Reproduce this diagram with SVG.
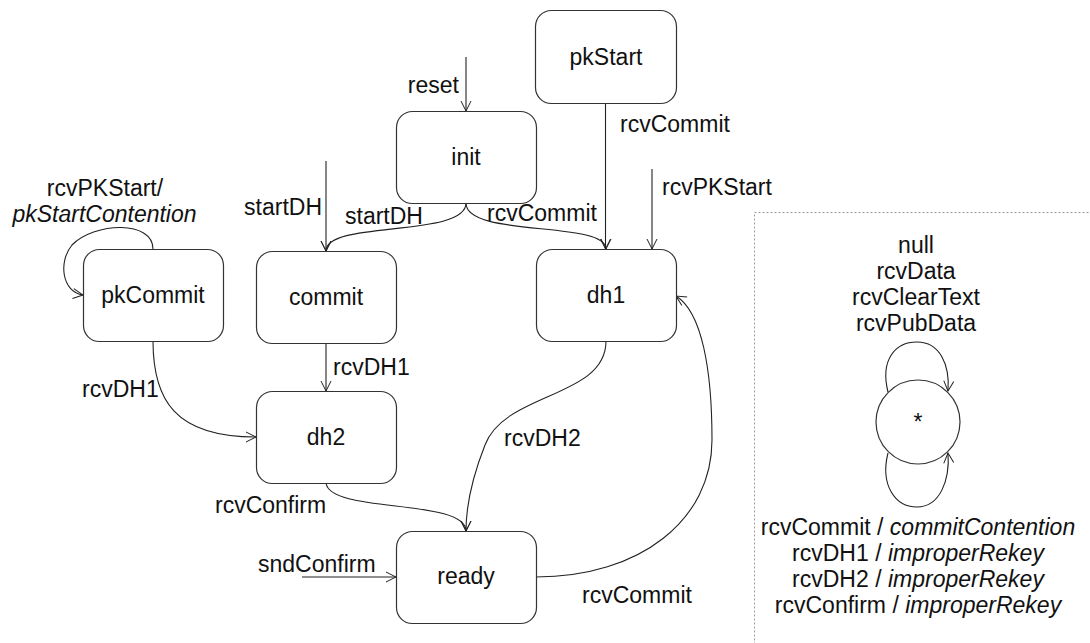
<svg xmlns="http://www.w3.org/2000/svg" width="1090" height="643" viewBox="0 0 1090 643">
  <style>
    text { font-family: "Liberation Sans", Arial, sans-serif; font-size: 23px; fill: #111; }
    .it { font-style: italic; }
    .state { fill: #ffffff; stroke: #333; stroke-width: 1.2; }
    .edge { fill: none; stroke: #222; stroke-width: 1.1; marker-end: url(#arrow); }
    .mid { text-anchor: middle; }
    .end { text-anchor: end; }
  </style>
  <defs>
    <marker id="arrow" viewBox="0 0 12 12" refX="11" refY="6" markerWidth="12" markerHeight="12" markerUnits="userSpaceOnUse" orient="auto">
      <path d="M1,1 L11,6 L1,11" fill="none" stroke="#222" stroke-width="1"/>
    </marker>
  </defs>

  <rect width="1090" height="643" fill="#ffffff"/>

  <!-- legend frame for transitions accepted in every state -->
  <rect x="754.5" y="212.5" width="340" height="440" fill="none" stroke="#999" stroke-width="1" stroke-dasharray="2,2"/>

  <!-- transitions -->
  <g id="connectors">
    <path class="edge" d="M466,57 L466,111"/>
    <path class="edge" d="M326,161 L326,251"/>
    <path class="edge" d="M466,203 C466,238 326,220 326,251"/>
    <path class="edge" d="M466,203 C466,238 606,220 606,249"/>
    <path class="edge" d="M605.5,103 L605.5,249"/>
    <path class="edge" d="M652,169 L652,249"/>
    <path class="edge" d="M153,249 C153,220 95,222 72,245 C58,262 62,292 83,295"/>
    <path class="edge" d="M153,341 C153,400 175,437 256,437"/>
    <path class="edge" d="M326,343 L326,391"/>
    <path class="edge" d="M326,483 C330,514 466,498 466,531"/>
    <path class="edge" d="M606,341 C606,398 505,392 485,445 C472,478 466,505 466,531"/>
    <path class="edge" d="M536,577 C640,577 712,520 712,440 C712,370 702,312 676,296"/>
    <path class="edge" d="M302,577 L396,577"/>
    <path class="edge" d="M888,392 C880,360 895,342 917,342 C940,342 950,365 948,391"/>
    <path class="edge" d="M888,453 C880,485 895,507 917,507 C940,507 950,480 948,453"/>
  </g>

  <!-- transition labels -->
  <g id="labels">
    <text class="end" x="459" y="93">reset</text>
    <text class="end" x="322" y="215">startDH</text>
    <text x="345" y="224">startDH</text>
    <text x="487" y="221">rcvCommit</text>
    <text x="620" y="132">rcvCommit</text>
    <text x="662" y="195">rcvPKStart</text>
    <text class="mid" x="105" y="196">rcvPKStart/</text>
    <text class="mid it" x="104.5" y="222">pkStartContention</text>
    <text x="82" y="397">rcvDH1</text>
    <text x="333" y="375">rcvDH1</text>
    <text x="215" y="513">rcvConfirm</text>
    <text x="504" y="446">rcvDH2</text>
    <text x="582" y="603">rcvCommit</text>
    <text x="258" y="572">sndConfirm</text>
    <text class="mid" x="916" y="253">null</text>
    <text class="mid" x="916" y="279">rcvData</text>
    <text class="mid" x="916" y="305">rcvClearText</text>
    <text class="mid" x="916" y="331">rcvPubData</text>
    <text class="mid" x="918" y="535">rcvCommit / <tspan class="it">commitContention</tspan></text>
    <text class="mid" x="918" y="561">rcvDH1 / <tspan class="it">improperRekey</tspan></text>
    <text class="mid" x="918" y="587">rcvDH2 / <tspan class="it">improperRekey</tspan></text>
    <text class="mid" x="918" y="613">rcvConfirm / <tspan class="it">improperRekey</tspan></text>
  </g>

  <!-- states -->
  <g id="pkStart">
    <rect class="state" x="535.5" y="10.5" width="141" height="93" rx="16"/>
    <text class="mid" x="606" y="65">pkStart</text>
  </g>
  <g id="init">
    <rect class="state" x="396.5" y="111.5" width="140" height="92" rx="16"/>
    <text class="mid" x="466" y="165">init</text>
  </g>
  <g id="pkCommit">
    <rect class="state" x="83.5" y="249.5" width="140" height="92" rx="16"/>
    <text class="mid" x="153" y="303">pkCommit</text>
  </g>
  <g id="commit">
    <rect class="state" x="256.5" y="251.5" width="140" height="92" rx="16"/>
    <text class="mid" x="326" y="305">commit</text>
  </g>
  <g id="dh1">
    <rect class="state" x="536.5" y="249.5" width="140" height="92" rx="16"/>
    <text class="mid" x="606" y="303">dh1</text>
  </g>
  <g id="dh2">
    <rect class="state" x="256.5" y="391.5" width="140" height="92" rx="16"/>
    <text class="mid" x="326" y="445">dh2</text>
  </g>
  <g id="ready">
    <rect class="state" x="396.5" y="531.5" width="140" height="92" rx="16"/>
    <text class="mid" x="466" y="584">ready</text>
  </g>
  <g id="any">
    <circle class="state" cx="918" cy="422" r="42"/>
    <text class="mid" x="918" y="430">*</text>
  </g>
</svg>
